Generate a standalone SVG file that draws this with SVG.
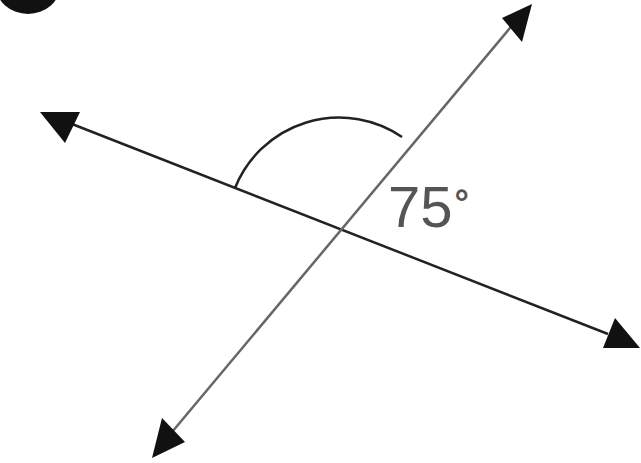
<svg xmlns="http://www.w3.org/2000/svg" width="641" height="463" viewBox="0 0 641 463">
<style>
.ln{stroke-width:2.5;fill:none;stroke-linecap:butt}
.dark{stroke:#222}
.gray{stroke:#666}
.head{fill:#111}
.lbl{font-family:"Liberation Sans",Arial,sans-serif;font-size:58px;fill:#555}
</style>
<rect width="641" height="463" fill="#fff"/>
<ellipse cx="28" cy="-14" rx="32" ry="28" fill="#111"/>
<g id="connectors">
<line class="ln dark" x1="72" y1="124" x2="608" y2="334"/>
<line class="ln gray" x1="515" y1="22" x2="162" y2="444"/>
<polygon class="head" points="40,112 80,112 65,143"/>
<polygon class="head" points="615,318 603,348 640,348"/>
<polygon class="head" points="502,18 532,4 522,42"/>
<polygon class="head" points="162,418 185,442 152,458"/>
</g>
<g id="angle">
<path class="ln dark" d="M235,188 A112,112 0 0 1 402,137"/>
<text class="lbl" x="388" y="227">75<tspan font-size="36" dx="2" dy="-12" font-weight="bold">°</tspan></text>
</g>
</svg>
